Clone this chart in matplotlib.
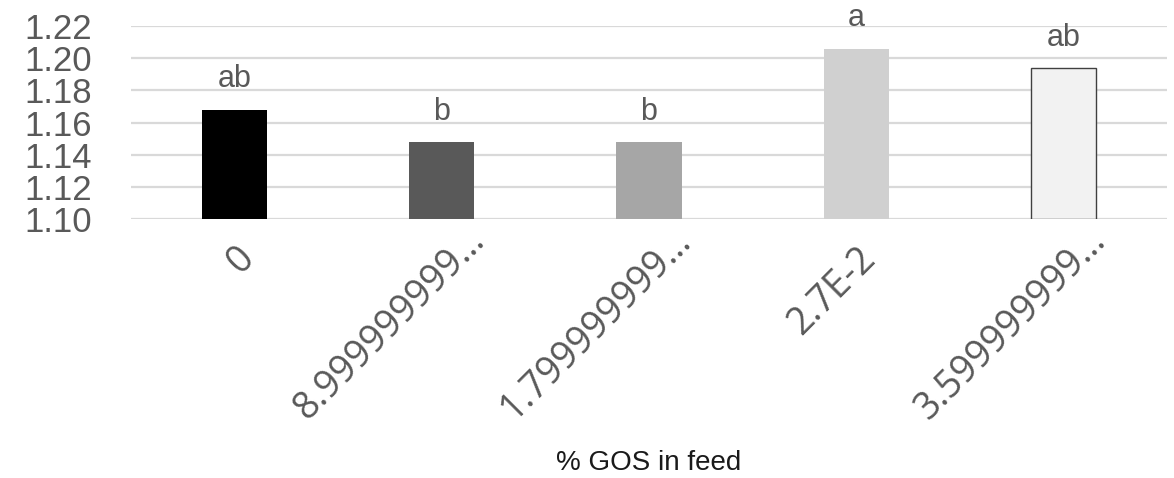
import matplotlib
matplotlib.use("Agg")
import matplotlib.pyplot as plt
import matplotlib.transforms as mtransforms

# 数据
categories = ["0", "8.999999999…", "1.799999999…", "2.7E-2", "3.599999999…"]
values = [1.168, 1.148, 1.148, 1.206, 1.194]
letters = ["ab", "b", "b", "a", "ab"]
bar_colors = ["#000000", "#595959", "#a6a6a6", "#d0d0d0", "#f2f2f2"]
edge_colors = ["none", "none", "none", "none", "#404040"]
y_ticks = [1.10, 1.12, 1.14, 1.16, 1.18, 1.20, 1.22]

W, H, DPI = 1174, 478, 100
fig = plt.figure(figsize=(W / DPI, H / DPI), dpi=DPI)
ax = fig.add_axes([131 / W, 1 - 219 / H, (1167 - 131) / W, (219 - 26) / H])

x = range(len(categories))
ax.bar(x, [v - 1.10 for v in values], bottom=1.10, width=0.314,
       color=bar_colors, edgecolor=edge_colors, linewidth=1.0, zorder=3)

# 显著性字母
for i, (v, lab) in enumerate(zip(values, letters)):
    ax.annotate(lab, (i, v), xytext=(0, 16), textcoords="offset points",
                ha="center", va="baseline", fontsize=22, color="#595959",
                family="Liberation Sans", annotation_clip=False)

ax.set_ylim(1.10, 1.22)
ax.set_xlim(-0.5, len(categories) - 0.5)
ax.set_yticks(y_ticks)
ax.set_yticklabels([f"{t:.2f}" for t in y_ticks], family="Liberation Sans",
                   fontsize=25, color="#595959")
ax.yaxis.grid(True, color="#d9d9d9", linewidth=1.6, zorder=0)
ax.tick_params(axis="y", length=0, pad=28)
ax.tick_params(axis="x", length=0, pad=15)
for s in ax.spines.values():
    s.set_visible(False)

ax.set_xticks(list(x))
ax.set_xticklabels(categories, rotation=45, ha="right", va="top",
                   family="Open Sans", fontsize=27, color="#595959")
for lbl in ax.get_xticklabels():
    if lbl.get_text().endswith("…"):
        off = mtransforms.ScaledTranslation(50 / DPI, 18 / DPI, fig.dpi_scale_trans)
    else:
        off = mtransforms.ScaledTranslation(27 / DPI, 0, fig.dpi_scale_trans)
    lbl.set_transform(lbl.get_transform() + off)

fig.text((131 + 1167) / 2 / W, 1 - 463 / H, "% GOS in feed", ha="center", va="center",
         fontsize=20, color="#1a1a1a", family="Liberation Sans")

fig.savefig("out.png", dpi=DPI)
